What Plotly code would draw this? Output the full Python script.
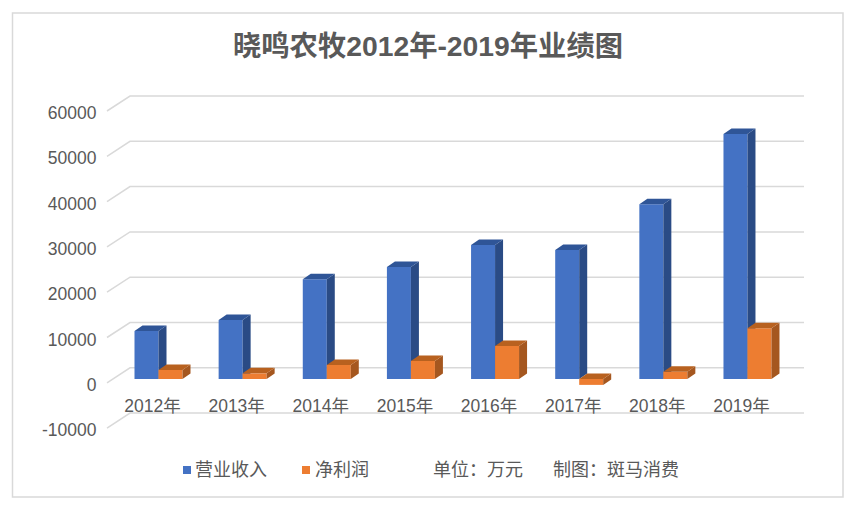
import plotly.graph_objects as go

categories = ["2012年", "2013年", "2014年", "2015年", "2016年", "2017年", "2018年", "2019年"]
revenue = [10600, 13000, 22000, 24700, 29600, 28500, 38600, 54100]
profit = [2000, 1250, 3100, 4000, 7300, -1300, 1600, 11200]
y_ticks = [60000, 50000, 40000, 30000, 20000, 10000, 0, -10000]
y_labels = ["60000", "50000", "40000", "30000", "20000", "10000", "0", "-10000"]
title = "晓鸣农牧2012年-2019年业绩图"
series_names = ["营业收入", "净利润"]
notes = ["单位：万元", "制图：斑马消费"]

W, H = 855, 511
PX_X = 84.14            # px per category
PX_Y = 45.3 / 10000     # px per value unit
FRONT_X0, FRONT_Y0 = 152.5, 382.8   # front plane origin (category 0, value 0)
BAR_X0, BAR_Y0 = 158.5, 379.0       # bar plane origin
GREY = "#595959"
GRID = "#D9D9D9"
FONT = "Liberation Sans, Noto Sans CJK SC, sans-serif"


def xr(x0):
    return [-x0 / PX_X, (W - x0) / PX_X]


def yr(y0):
    return [-(H - y0) / PX_Y, y0 / PX_Y]


fig = go.Figure()

# Walls / gridlines: front-left corner -> back wall -> right end
wall_dx, wall_dy = 23 / PX_X, 15 / PX_Y
left = (107 - FRONT_X0) / PX_X
right = (804 - FRONT_X0) / PX_X
gx, gy = [], []
for v in y_ticks:
    gx += [left, left + wall_dx, right, None]
    gy += [v, v + wall_dy, v + wall_dy, None]
fig.add_trace(go.Scatter(x=gx, y=gy, mode="lines", line=dict(color=GRID, width=1.5),
                         hoverinfo="skip", showlegend=False, xaxis="x", yaxis="y"))

BAR_W = 24.0 / PX_X
DX, DY = 8 / PX_X, 5.5 / PX_Y


def add_series(name, values, offset, front, side, top, xa, ya):
    fig.add_trace(go.Bar(x=list(range(len(values))), y=values, name=name, width=BAR_W,
                         offset=offset, marker=dict(color=front, line=dict(width=0)),
                         showlegend=False, xaxis=xa, yaxis=ya))
    sx, sy, tx, ty = [], [], [], []
    for i, v in enumerate(values):
        l, r = i + offset, i + offset + BAR_W
        hi, lo = max(v, 0), min(v, 0)
        sx += [r, r + DX, r + DX, r, r, None]
        sy += [hi, hi + DY, lo + DY, lo, hi, None]
        tx += [l, l + DX, r + DX, r, l, None]
        ty += [hi, hi + DY, hi + DY, hi, hi, None]
    for px_, py_, col in ((sx, sy, side), (tx, ty, top)):
        fig.add_trace(go.Scatter(x=px_, y=py_, mode="lines", fill="toself", fillcolor=col,
                                 line=dict(width=0), hoverinfo="skip", showlegend=False,
                                 xaxis=xa, yaxis=ya))


add_series(series_names[0], revenue, -BAR_W, "#4472C4", "#2A4B85", "#2F5597", "x2", "y2")
add_series(series_names[1], profit, 0, "#ED7D31", "#A5571F", "#B8611F", "x3", "y3")

# Legend swatches and text
swatches = [(183, "#4472C4"), (302, "#ED7D31")]
shapes = [dict(type="rect", xref="paper", yref="paper", x0=12.5 / W, x1=843 / W,
               y0=1 - 497 / H, y1=1 - 13 / H, line=dict(color=GRID, width=1.5))]
for sx_, col in swatches:
    shapes.append(dict(type="rect", xref="paper", yref="paper", x0=sx_ / W, x1=(sx_ + 8) / W,
                       y0=1 - 474 / H, y1=1 - 466 / H, fillcolor=col, line=dict(width=0)))

annotations = []
for text, xpos in zip(series_names + notes, [193, 313, 431, 551]):
    annotations.append(dict(text=text, xref="paper", yref="paper", x=xpos / W, y=1 - 470 / H,
                            xanchor="left", yanchor="middle", showarrow=False,
                            font=dict(family=FONT, size=18, color=GREY)))

hidden = dict(visible=False, fixedrange=True)
fig.update_layout(
    width=W, height=H, margin=dict(l=0, r=0, t=0, b=0), autosize=False,
    paper_bgcolor="white", plot_bgcolor="white", barmode="overlay", showlegend=False,
    font=dict(family=FONT, color=GREY),
    title=dict(text=f"<b>{title}</b>", x=428 / W, xref="paper", xanchor="center",
               y=1 - 46 / H, yref="paper", yanchor="middle",
               font=dict(family=FONT, size=28.3, color=GREY)),
    xaxis=dict(range=xr(FRONT_X0), tickmode="array", tickvals=list(range(len(categories))),
               ticktext=categories, showgrid=False, zeroline=False, showline=False, ticks="",
               anchor="free", position=1 - 393 / H, tickfont=dict(size=17.5, color=GREY), fixedrange=True),
    yaxis=dict(range=yr(FRONT_Y0), tickmode="array", tickvals=y_ticks, ticktext=y_labels,
               showgrid=False, zeroline=False, showline=False, ticks="", ticklabelshift=2,
               anchor="free", position=96.5 / W, tickfont=dict(size=17.5, color=GREY), fixedrange=True),
    xaxis2=dict(range=xr(BAR_X0), overlaying="x", **hidden),
    yaxis2=dict(range=yr(BAR_Y0), overlaying="y", **hidden),
    xaxis3=dict(range=xr(BAR_X0), overlaying="x", **hidden),
    yaxis3=dict(range=yr(BAR_Y0), overlaying="y", **hidden),
    shapes=shapes, annotations=annotations,
)

fig.write_html("out.html", config=dict(displayModeBar=False),
               post_script="document.body.style.margin='0';document.body.style.overflow='hidden';")
